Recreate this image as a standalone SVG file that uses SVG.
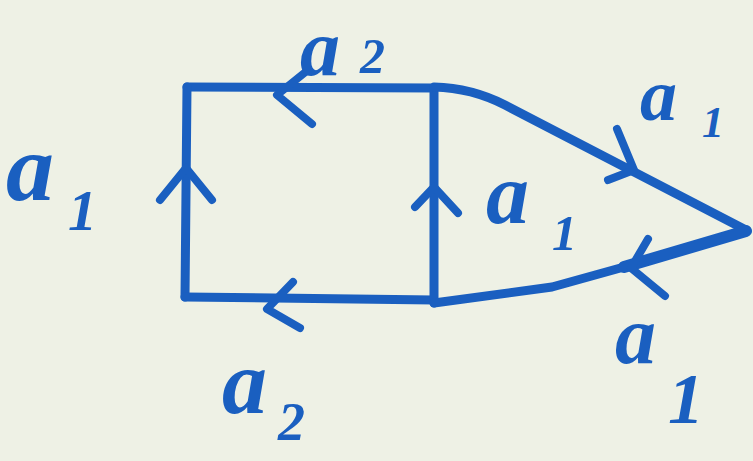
<svg xmlns="http://www.w3.org/2000/svg" width="753" height="461" viewBox="0 0 753 461">
<style>
.e{fill:none;stroke:#1a5fc0;stroke-width:9;stroke-linecap:round;stroke-linejoin:round}
.h{fill:none;stroke:#1a5fc0;stroke-width:8;stroke-linecap:round;stroke-linejoin:round}
.t{fill:#1a5fc0;font-family:"Liberation Serif",serif;font-style:italic;font-weight:bold}
</style>
<rect width="753" height="461" fill="#eef1e5"/>
<g id="connectors">
<path class="e" d="M434,88 L187,87"/>
<path class="e" d="M187,87 L185,297"/>
<path class="e" d="M185,297 L434,300"/>
<path class="e" d="M434,88 L434,303"/>
<path class="e" d="M434,87 Q472,88 505,105 L746,230"/>
<path class="e" d="M624,267 L552,287 L434,303"/>
<path class="e" d="M746,231 L624,267" style="stroke-width:12"/>
<path class="h" d="M308,70 L277,95 L312,124"/>
<path class="h" d="M160,200 L186,168 L212,200"/>
<path class="h" d="M415,207 L434,187 L458,213"/>
<path class="h" d="M293,282 L267,309 L300,328"/>
<path class="h" d="M617,129 L634,170 L608,180"/>
<path class="h" d="M648,239 L631,268 L665,296"/>
</g>
<g id="label-top"><text class="t" x="300" y="75" font-size="80">a</text><text class="t" x="360" y="73" font-size="50">2</text></g>
<g id="label-left"><text class="t" x="6" y="200" font-size="96">a</text><text class="t" x="68" y="230" font-size="58">1</text></g>
<g id="label-mid"><text class="t" x="486" y="223" font-size="86">a</text><text class="t" x="552" y="250" font-size="50">1</text></g>
<g id="label-ur"><text class="t" x="640" y="120" font-size="74">a</text><text class="t" x="702" y="137" font-size="44">1</text></g>
<g id="label-lr"><text class="t" x="615" y="363" font-size="82">a</text><text class="t" x="668" y="423" font-size="72">1</text></g>
<g id="label-bottom"><text class="t" x="222" y="413" font-size="90">a</text><text class="t" x="278" y="440" font-size="54">2</text></g>
</svg>
